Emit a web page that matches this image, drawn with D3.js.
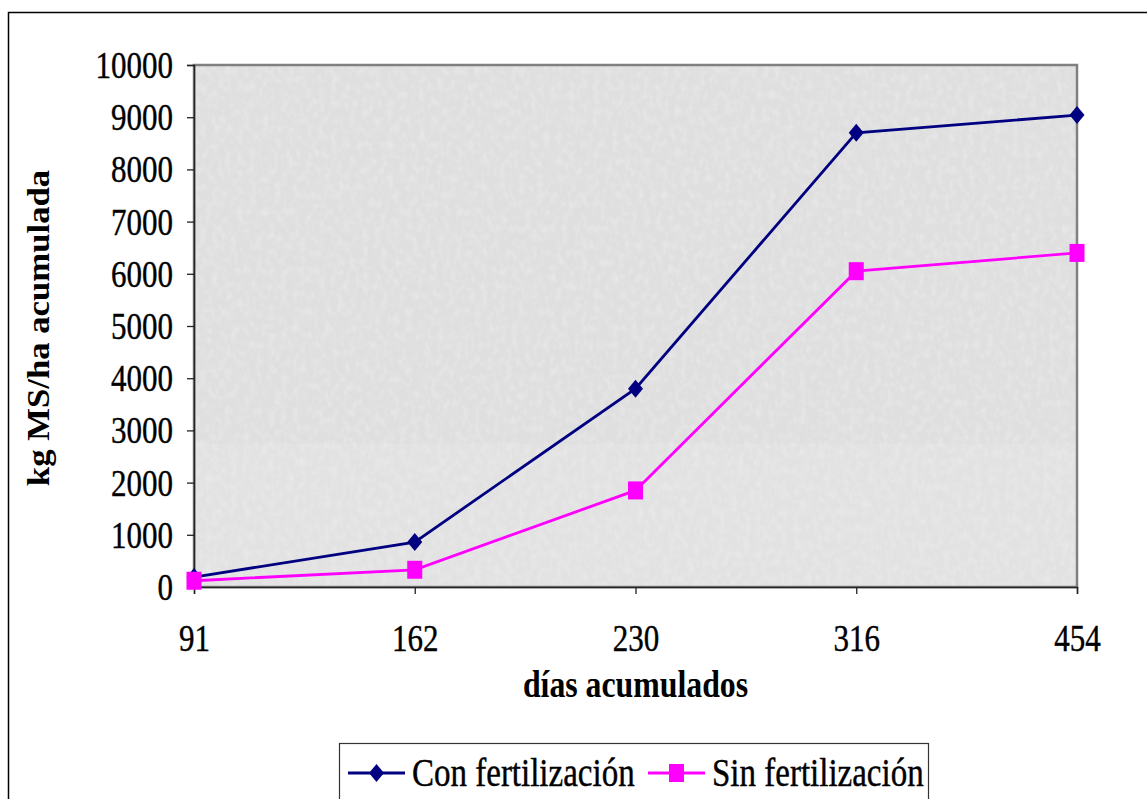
<!DOCTYPE html>
<html>
<head>
<meta charset="utf-8">
<script src="https://cdn.jsdelivr.net/npm/d3@7"></script>
<style>
  html, body { margin: 0; padding: 0; background: #fff; overflow: hidden; }
  svg text { font-family: "Liberation Serif", "Times New Roman", Tinos, "DejaVu Serif", serif !important; fill: #000; }
  svg text.reg { stroke: #000; stroke-width: 0.35px; }
</style>
</head>
<body>
<svg id="chart" width="1147" height="799"></svg>
<script>
// Accumulated dry matter (kg MS/ha) by accumulated days
const dias = ["91", "162", "230", "316", "454"];
const conFertilizacion = [190, 860, 3800, 8700, 9040];
const sinFertilizacion = [120, 330, 1850, 6050, 6400];
const yTicks = [0, 1000, 2000, 3000, 4000, 5000, 6000, 7000, 8000, 9000, 10000];
const seriesNames = ["Con fertilización", "Sin fertilización"];

const svg = d3.select("#chart");
const plot = { left: 194, right: 1077, top: 65, bottom: 587 };
const STRETCH = 1.19;       // text is drawn slightly taller than wide
const FONT = 31;

// outer frame (runs off the right and bottom edges)
svg.append("rect")
  .attr("x", 8.5).attr("y", 12.5)
  .attr("width", 1300).attr("height", 1000)
  .attr("fill", "#fff").attr("stroke", "#000").attr("stroke-width", 1.5);

// fine mottled grey plot background
const defs = svg.append("defs");
const f = defs.append("filter").attr("id", "mottle")
  .attr("x", 0).attr("y", 0).attr("width", 1).attr("height", 1);
f.append("feTurbulence").attr("type", "fractalNoise")
  .attr("baseFrequency", "0.16 0.12").attr("numOctaves", 2).attr("seed", 3).attr("result", "n");
f.append("feColorMatrix").attr("in", "n").attr("type", "matrix")
  .attr("values", "0 0 0 0 1  0 0 0 0 1  0 0 0 0 1  1.2 0 0 0 -0.5").attr("result", "w");
f.append("feComposite").attr("in", "w").attr("in2", "SourceGraphic").attr("operator", "in");

const x = d3.scalePoint().domain(dias).range([plot.left, plot.right]).padding(0);
const y = d3.scaleLinear().domain([0, 10000]).range([plot.bottom, plot.top]);

const pw = plot.right - plot.left, ph = plot.bottom - plot.top;
svg.append("rect").attr("x", plot.left).attr("y", plot.top)
  .attr("width", pw).attr("height", ph).attr("fill", "#dfdfdf");
svg.append("rect").attr("x", plot.left).attr("y", plot.top)
  .attr("width", pw).attr("height", ph)
  .attr("fill", "#dfdfdf").attr("filter", "url(#mottle)").attr("opacity", 0.45);
svg.append("rect").attr("x", plot.left).attr("y", y(2750))
  .attr("width", pw).attr("height", plot.bottom - y(2750))
  .attr("fill", "#ffffff").attr("opacity", 0.1);
svg.append("rect").attr("x", plot.left).attr("y", plot.top)
  .attr("width", pw).attr("height", ph)
  .attr("fill", "none").attr("stroke", "#808080").attr("stroke-width", 2.5);

// y axis
const yAxis = svg.append("g")
  .attr("transform", `translate(${plot.left},0)`)
  .call(d3.axisLeft(y).tickValues(yTicks).tickSize(7).tickPadding(14).tickFormat(d3.format("d")));
yAxis.attr("font-family", null);
yAxis.select(".domain").attr("stroke", "#222").attr("stroke-width", 1.5);
yAxis.selectAll(".tick line").attr("stroke", "#222").attr("stroke-width", 1.3);
yAxis.selectAll(".tick text")
  .attr("class", "reg")
  .attr("font-size", FONT).attr("dy", null).attr("y", 0)
  .attr("transform", `translate(0,${0.34 * FONT * STRETCH}) scale(1,${STRETCH})`);

// x axis
const xAxis = svg.append("g")
  .attr("transform", `translate(0,${plot.bottom})`)
  .call(d3.axisBottom(x).tickSize(7));
xAxis.attr("font-family", null);
xAxis.select(".domain").attr("stroke", "#222").attr("stroke-width", 1.5);
xAxis.selectAll(".tick line").attr("stroke", "#222").attr("stroke-width", 1.3);
xAxis.selectAll(".tick text")
  .attr("class", "reg")
  .attr("font-size", FONT).attr("dy", null).attr("y", 0)
  .attr("transform", `translate(0,64) scale(1,${STRETCH})`);

// axis titles
svg.append("text")
  .attr("text-anchor", "middle").attr("font-weight", "bold").attr("font-size", 31.8)
  .attr("transform", `translate(${(plot.left + plot.right) / 2},697) scale(1,${STRETCH})`)
  .text("días acumulados");
svg.append("text")
  .attr("text-anchor", "middle").attr("font-weight", "bold").attr("font-size", 31)
  .attr("transform", `translate(49,${(plot.top + plot.bottom) / 2 + 2}) rotate(-90) scale(1.12,1)`)
  .text("kg MS/ha acumulada");

// series
const series = [
  { name: seriesNames[0], values: conFertilizacion, color: "#000080", shape: "diamond" },
  { name: seriesNames[1], values: sinFertilizacion, color: "#ff00ff", shape: "square" }
];
const line = d3.line().x(d => x(d.k)).y(d => y(d.v));

function marker(g, shape, color) {
  if (shape === "diamond") {
    g.append("path").attr("d", "M0,-9 L7.5,0 L0,9 L-7.5,0 Z").attr("fill", color);
  } else {
    g.append("rect").attr("x", -7.5).attr("y", -9).attr("width", 15).attr("height", 18).attr("fill", color);
  }
}

series.forEach(s => {
  const pts = s.values.map((v, i) => ({ k: dias[i], v }));
  svg.append("path").datum(pts)
    .attr("d", line).attr("fill", "none")
    .attr("stroke", s.color).attr("stroke-width", 2.8);
  pts.forEach(p => {
    const g = svg.append("g").attr("transform", `translate(${x(p.k)},${y(p.v)})`);
    marker(g, s.shape, s.color);
  });
});

// legend
svg.append("rect")
  .attr("x", 339.5).attr("y", 743.5).attr("width", 589).attr("height", 80)
  .attr("fill", "#fff").attr("stroke", "#333").attr("stroke-width", 1.2);
const legendItems = [
  { s: series[0], x0: 348, x1: 405, tx: 412 },
  { s: series[1], x0: 648, x1: 705, tx: 712 }
];
const ly = 773;
legendItems.forEach(it => {
  svg.append("line").attr("x1", it.x0).attr("x2", it.x1).attr("y1", ly).attr("y2", ly)
    .attr("stroke", it.s.color).attr("stroke-width", 2.8);
  const g = svg.append("g").attr("transform", `translate(${(it.x0 + it.x1) / 2},${ly})`);
  marker(g, it.s.shape, it.s.color);
  svg.append("text").attr("class", "reg").attr("font-size", 33)
    .attr("transform", `translate(${it.tx},${ly + 13}) scale(1,${STRETCH})`)
    .text(it.s.name);
});
</script>
</body>
</html>
